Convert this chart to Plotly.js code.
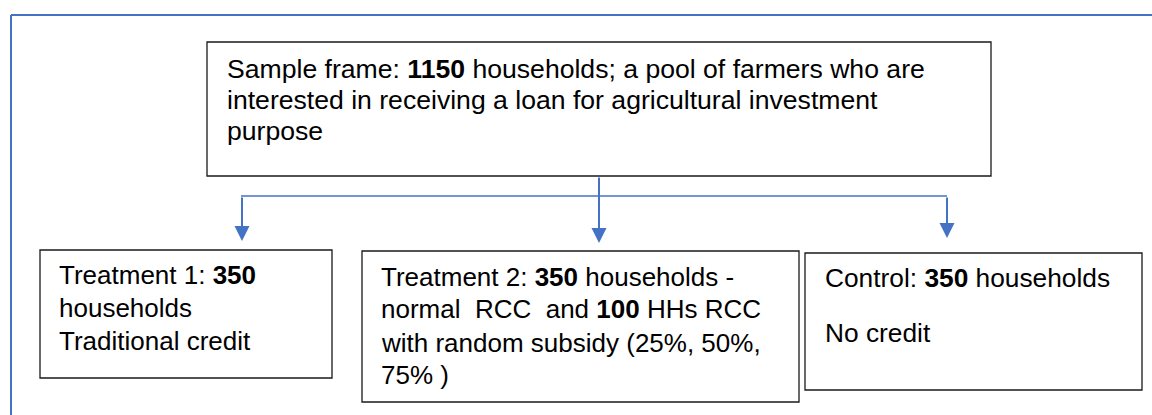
<!DOCTYPE html>
<html>
<head>
<meta charset="utf-8">
<script src="https://cdn.plot.ly/plotly-3.0.1.min.js"></script>
<style>
  html, body { margin: 0; padding: 0; background: #ffffff; }
  #flow { width: 1152px; height: 415px; }
</style>
</head>
<body>
<div id="flow"></div>
<script>
// Flow diagram of the sample design (pixel coordinates on a 1152x415 canvas)

// Box texts, one entry per line
const frameLines = [
    'Sample frame: <b>1150</b> households; a pool of farmers who are',
    'interested in receiving a loan for agricultural investment',
    'purpose'
];
const treat1Lines = ['Treatment 1: <b>350</b>', 'households', 'Traditional credit'];
const treat2Lines = [
    'Treatment 2: <b>350</b> households -',
    'normal  RCC  and <b>100</b> HHs RCC',
    'with random subsidy (25%, 50%,',
    '75% )'
];
const controlLines = ['Control: <b>350</b> households', 'No credit'];

// geometry
const boxes = [
    { x0: 207, x1: 991, y0: 42, y1: 176, tx: 225, fs: 26.6, base: [79, 110, 140.5], lines: frameLines },
    { x0: 40, x1: 332, y0: 250, y1: 378, tx: 57, fs: 26, base: [284, 317, 350], lines: treat1Lines },
    { x0: 362, x1: 799, y0: 251, y1: 402, tx: 379, fs: 26, base: [286, 318.5, 352, 384], lines: treat2Lines },
    { x0: 805, x1: 1142, y0: 253, y1: 390, tx: 823, fs: 26.3, base: [287, 342], lines: controlLines }
];

const blue = '#4472C4';

const shapes = [
    // outer frame (only the top and left edges are visible)
    { type: 'line', x0: 11, x1: 1152, y0: 15, y1: 15, line: { color: blue, width: 2 } },
    { type: 'line', x0: 11, x1: 11, y0: 15, y1: 415, line: { color: blue, width: 2 } },
    // horizontal connector
    { type: 'line', x0: 241, x1: 947, y0: 196, y1: 196, line: { color: blue, width: 1.5 } }
];
boxes.forEach(b => {
    shapes.push({ type: 'rect', x0: b.x0, x1: b.x1, y0: b.y0, y1: b.y1,
        line: { color: '#1a1a1a', width: 1.3 }, fillcolor: 'rgba(0,0,0,0)' });
});

const annotations = [];
boxes.forEach(b => {
    b.lines.forEach((t, i) => {
        annotations.push({
            x: b.tx, y: b.base[i] - b.fs * 0.36, xref: 'x', yref: 'y',
            text: t, showarrow: false, xanchor: 'left', yanchor: 'middle',
            font: { family: 'Liberation Sans, Arial, sans-serif', size: b.fs, color: '#000000' }
        });
    });
});

// arrows: tail -> tip
const arrows = [
    { x: 599, tail: 176, tip: 243 },
    { x: 242, tail: 196, tip: 241 },
    { x: 947, tail: 196, tip: 238 }
];
arrows.forEach(a => {
    annotations.push({
        x: a.x, y: a.tip, ax: a.x, ay: a.tail, xref: 'x', yref: 'y', axref: 'x', ayref: 'y',
        text: '', showarrow: true, arrowhead: 2, arrowsize: 1.5, arrowwidth: 2,
        arrowcolor: blue, standoff: 0
    });
});

const layout = {
    width: 1152,
    height: 415,
    margin: { l: 0, r: 0, t: 0, b: 0 },
    paper_bgcolor: '#ffffff',
    plot_bgcolor: '#ffffff',
    xaxis: { range: [0, 1152], visible: false, fixedrange: true },
    yaxis: { range: [415, 0], visible: false, fixedrange: true },
    shapes: shapes,
    annotations: annotations,
    showlegend: false
};

Plotly.newPlot('flow', [], layout, { displayModeBar: false, staticPlot: true });
</script>
</body>
</html>
